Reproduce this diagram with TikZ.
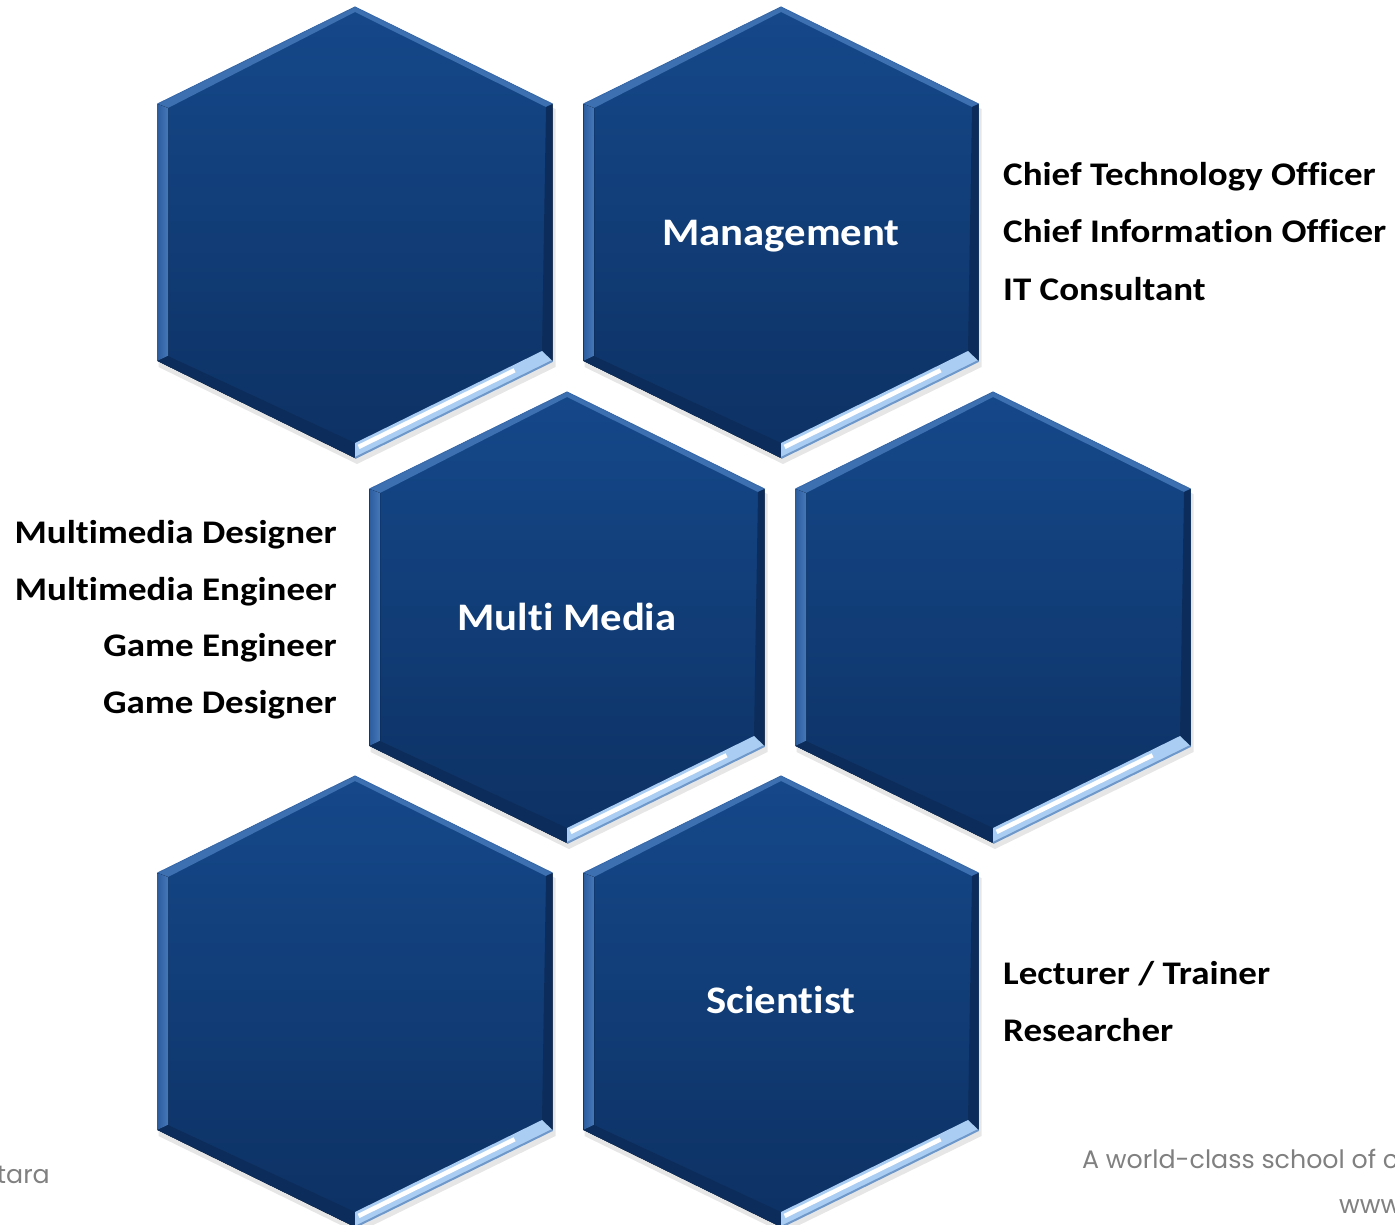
\documentclass[tikz,border=0pt]{standalone}
\usepackage{fontspec}
\setmainfont{Carlito}[Ligatures=NoCommon]
\newfontfamily\piefont{Poppins}
\usetikzlibrary{calc}

\definecolor{HexTop}{RGB}{21,72,138}
\definecolor{HexBottom}{RGB}{13,49,99}
\definecolor{BevelLight}{RGB}{110,160,222}
\definecolor{BevelGlow}{RGB}{170,205,243}
\definecolor{FooterGray}{RGB}{128,128,128}
\colorlet{HexDark}{HexBottom!92!black}
\colorlet{HexShadow}{black!45}

% Texto ensanchado como en la diapositiva original
\newcommand{\wide}[2]{\scalebox{#1}[1]{#2}}

\tikzset{
  hexlabel/.style={text=white, font=\fontsize{39}{47}\selectfont\bfseries, anchor=base, inner sep=0pt},
  rolelabel/.style={text=black, font=\fontsize{33}{40}\selectfont\bfseries, inner sep=0pt},
  footer/.style={text=FooterGray, font=\piefont\fontsize{25.3}{30}\selectfont, inner sep=0pt}
}

\begin{document}
\begin{tikzpicture}[x=1pt, y=-1pt]

\useasboundingbox (0,0) rectangle (1395,1225);

% Panal de hexágonos con bisel (centro x / borde superior y).
\foreach \cx/\ty in {355/7, 781/7, 567/392, 993/392, 355/776, 781/776} {
  \coordinate (T)   at (\cx, \ty);
  \coordinate (UR)  at (\cx+197.5, \ty+97);
  \coordinate (LR)  at (\cx+197.5, \ty+354);
  \coordinate (B)   at (\cx, \ty+451);
  \coordinate (LL)  at (\cx-197.5, \ty+354);
  \coordinate (UL)  at (\cx-197.5, \ty+97);
  % Vértices interiores del bisel
  \coordinate (Ti)  at (\cx, \ty+5);
  \coordinate (URi) at (\cx+191, \ty+100);
  \coordinate (LRi) at (\cx+187, \ty+344);
  \coordinate (Bi)  at (\cx, \ty+436);
  \coordinate (LLi) at (\cx-187, \ty+349);
  \coordinate (ULi) at (\cx-187, \ty+101);

  % Sombra
  \fill[HexShadow, opacity=0.22] ($(UL)+(2,5)$) -- ($(T)+(2,5)$) -- ($(UR)+(3,5)$)
     -- ($(LR)+(3,6)$) -- ($(B)+(2,6)$) -- ($(LL)+(1,6)$) -- cycle;

  % Relleno
  \fill[top color=HexTop, bottom color=HexBottom]
    (T) -- (UR) -- (LR) -- (B) -- (LL) -- (UL) -- cycle;

  % Bisel superior
  \fill[HexTop!55!BevelLight] (UL) -- (T) -- (UR) -- (URi) -- (Ti) -- (ULi) -- cycle;
  % Bisel izquierdo
  \fill[left color=HexTop!75!BevelLight, right color=HexTop!45!BevelLight]
    (UL) -- (LL) -- (LLi) -- (ULi) -- cycle;
  % Bisel derecho
  \fill[HexDark] (UR) -- (LR) -- (LRi) -- (URi) -- cycle;
  % Bisel inferior izquierdo
  \fill[HexBottom!92!black] (LL) -- (B) -- (Bi) -- (LLi) -- cycle;
  % Bisel inferior derecho brillante
  \fill[BevelGlow] (LR) -- (B) -- (Bi) -- (LRi) -- cycle;
  \draw[HexTop!40!BevelGlow, line width=2pt] (LR) -- (B);
  \draw[white, line width=4.5pt, shorten <=35pt, shorten >=4pt]
    ($(LR)!0.62!(LRi)$) -- ($(B)!0.62!(Bi)$);
  \draw[HexTop!60!BevelLight, line width=1pt] (UL) -- (T) -- (UR);
}

% Nombres de las áreas
\node[hexlabel] (management) at (781,245) {\wide{1.095}{Management}};
\node[hexlabel] (multimedia) at (567,630) {\wide{1.095}{Multi Media}};
\node[hexlabel] (scientist) at (781,1013) {\wide{1.095}{Scientist}};

% Puestos de gestión
\node[rolelabel, anchor=base west] (cto) at (1003,186) {\wide{1.12}{Chief Technology Officer}};
\node[rolelabel, anchor=base west] (cio) at (1003,243) {\wide{1.12}{Chief Information Officer}};
\node[rolelabel, anchor=base west] (itc) at (1003,300) {\wide{1.12}{IT Consultant}};

% Puestos de multimedia
\node[rolelabel, anchor=base east] (mmd) at (337,543) {\wide{1.12}{Multimedia Designer}};
\node[rolelabel, anchor=base east] (mme) at (337,600) {\wide{1.12}{Multimedia Engineer}};
\node[rolelabel, anchor=base east] (gme) at (337,656) {\wide{1.12}{Game Engineer}};
\node[rolelabel, anchor=base east] (gmd) at (337,713) {\wide{1.12}{Game Designer}};

% Puestos científicos
\node[rolelabel, anchor=base west] (lct) at (1003,984) {\wide{1.12}{Lecturer / Trainer}};
\node[rolelabel, anchor=base west] (rsc) at (1003,1041) {\wide{1.12}{Researcher}};

% Pie de página
\node[footer, anchor=base east] (tara) at (50,1183) {tara};
\node[footer, anchor=base west] (motto) at (1082,1168) {A world-class school of c};
\node[footer, anchor=base west] (web) at (1339,1213) {www};

\end{tikzpicture}
\end{document}
